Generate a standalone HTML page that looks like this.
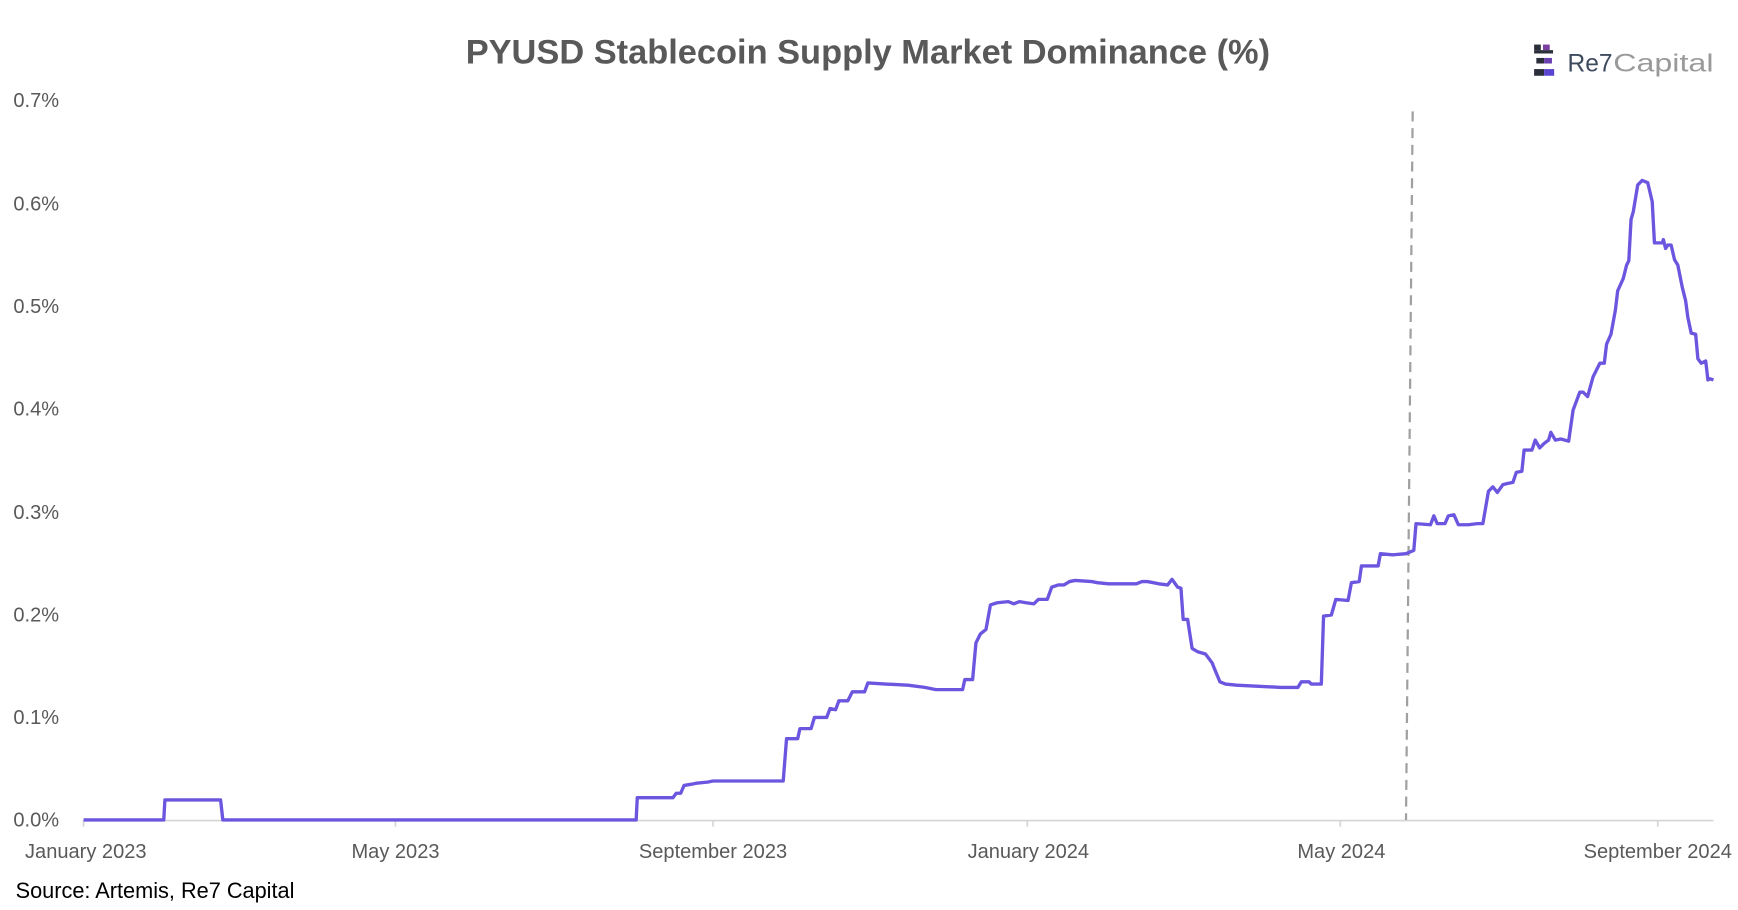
<!DOCTYPE html>
<html><head><meta charset="utf-8"><style>
html,body{margin:0;padding:0;background:#fff;}
svg{display:block;}
text{font-family:"Liberation Sans",sans-serif;}
</style></head><body>
<svg width="1738" height="910" viewBox="0 0 1560 816.8" xmlns="http://www.w3.org/2000/svg">
<rect width="1560" height="816.8" fill="#fff"/>
<text x="779" y="57" text-anchor="middle" font-size="31" font-weight="bold" fill="#595959" textLength="722" lengthAdjust="spacingAndGlyphs">PYUSD Stablecoin Supply Market Dominance (%)</text>
<g>
<rect x="1377" y="40" width="6" height="5" fill="#2b2f3a"/><rect x="1385" y="40" width="6" height="5" fill="#7a3fa0"/>
<rect x="1377" y="45" width="17" height="3" fill="#2b2f3a"/>
<rect x="1379" y="52" width="7" height="5" fill="#2b2f3a"/><rect x="1386" y="52" width="7" height="5" fill="#6a3fb0"/>
<rect x="1377" y="62" width="9" height="6" fill="#2b2f3a"/><rect x="1386" y="62" width="9" height="6" fill="#5a45d0"/>
<text x="1407" y="64" font-family="Liberation Mono,monospace" font-size="22" fill="#3e4a5e">Re7</text>
<text x="1448" y="64" font-family="Liberation Mono,monospace" font-size="22" fill="#9a9a9a" textLength="90" lengthAdjust="spacingAndGlyphs">Capital</text>
</g>
<g font-size="18" fill="#595959">
<text x="12" y="96">0.7%</text>
<text x="12" y="189">0.6%</text>
<text x="12" y="281">0.5%</text>
<text x="12" y="373">0.4%</text>
<text x="12" y="466">0.3%</text>
<text x="12" y="558">0.2%</text>
<text x="12" y="650">0.1%</text>
<text x="12" y="742">0.0%</text>
</g>
<line x1="75" y1="736.5" x2="1538" y2="736.5" stroke="#d4d4d4" stroke-width="1.5"/>
<g stroke="#d4d4d4" stroke-width="1.5">
<line x1="75" y1="736" x2="75" y2="742"/><line x1="355" y1="736" x2="355" y2="742"/>
<line x1="640" y1="736" x2="640" y2="742"/><line x1="922" y1="736" x2="922" y2="742"/>
<line x1="1203" y1="736" x2="1203" y2="742"/><line x1="1488" y1="736" x2="1488" y2="742"/>
</g>
<g font-size="18" fill="#595959" text-anchor="middle">
<text x="77" y="770">January 2023</text>
<text x="355" y="770">May 2023</text>
<text x="640" y="770">September 2023</text>
<text x="923" y="770">January 2024</text>
<text x="1204" y="770">May 2024</text>
<text x="1488" y="770">September 2024</text>
</g>
<text x="14" y="806" font-size="19.5" fill="#000">Source: Artemis, Re7 Capital</text>
<line x1="1268" y1="100" x2="1262" y2="736" stroke="#a0a0a0" stroke-width="2" stroke-dasharray="9,6"/>
<polyline fill="none" stroke="#6b56e0" stroke-width="3" stroke-linejoin="round" points="75,736 147,736 148,718 198,718 200,736 571,736 572,716 604,716 607,712 611,712 614,705 620,704 625,703 635,702 640,701 703,701 706,663 716,663 718,654 728,654 731,644 742,644 745,636 750,637 753,629 761,629 765,621 776,621 779,613 795,614 815,615 830,617 840,619 864,619 866,610 873,610 876,577 880,569 885,565 889,543 895,541 905,540 910,542 915,540 921,541 928,542 932,538 940,538 944,527 950,525 955,525 960,522 965,521 980,522 985,523 995,524 1010,524 1020,524 1025,522 1030,522 1040,524 1048,525 1052,520 1057,527 1060,528 1062,556 1066,556 1070,582 1075,585 1082,587 1088,595 1090,600 1095,612 1100,614 1110,615 1130,616 1150,617 1165,617 1168,612 1175,612 1177,614 1186,614 1188,553 1195,552 1199,538 1210,539 1213,523 1220,522 1222,508 1237,508 1239,497 1250,498 1262,497 1269,494 1271,470 1284,471 1287,463 1290,470 1297,470 1300,463 1305,462 1309,471 1318,471 1326,470 1331,470 1336,441 1340,437 1344,442 1349,435 1353,434 1358,433 1361,424 1366,423 1368,404 1375,404 1378,395 1382,402 1386,398 1390,395 1392,388 1396,395 1401,394 1408,396 1412,368 1418,352 1421,352 1425,356 1430,338 1436,326 1440,326 1442,309 1446,300 1450,278 1452,261 1457,250 1460,238 1462,234 1464,197 1466,190 1470,166 1474,162 1479,164 1483,181 1485,218 1492,218 1493,215 1495,223 1497,220 1500,220 1503,233 1506,238 1510,258 1513,270 1515,285 1518,299 1522,300 1524,322 1527,326 1531,324 1533,341 1535,340 1538,341"/>
</svg>
</body></html>
